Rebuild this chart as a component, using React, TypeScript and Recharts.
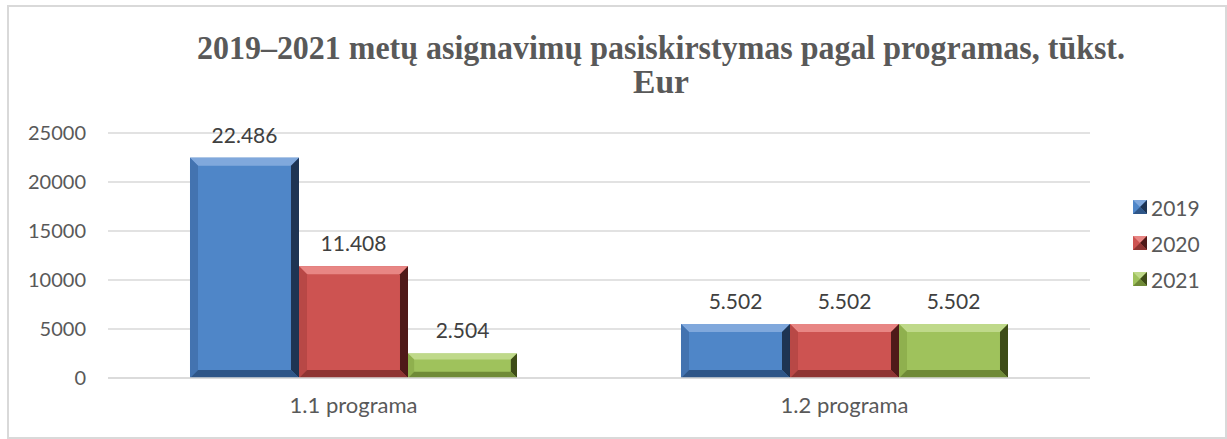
import React from 'react';
import { BarChart, Bar, XAxis, YAxis, CartesianGrid, Legend, LabelList } from 'recharts';

const categories = ['1.1 programa', '1.2 programa'];
const values2019 = [22486, 5502];
const values2020 = [11408, 5502];
const values2021 = [2504, 5502];
const seriesNames = ['2019', '2020', '2021'];
const yTicks = [0, 5000, 10000, 15000, 20000, 25000];
const titleLine1 = '2019–2021 metų asignavimų pasiskirstymas pagal programas, tūkst.';
const titleLine2 = 'Eur';

const data = categories.map((c, i) => ({
  name: c,
  '2019': values2019[i],
  '2020': values2020[i],
  '2021': values2021[i],
}));

const palette: Record<string, { face: string; top: string; left: string; right: string; bottom: string }> = {
  '2019': { face: '#4f86c8', top: '#80a8dc', left: '#4373b0', right: '#1e3453', bottom: '#2f5688' },
  '2020': { face: '#cd5351', top: '#e88684', left: '#b84846', right: '#4f1a19', bottom: '#8e3533' },
  '2021': { face: '#9fc25c', top: '#bfd98a', left: '#8fb04e', right: '#3e4c18', bottom: '#6f8a37' },
};

const makeShape = (key: string) => (props: any) => {
  const { x, y, width: w, height: h } = props;
  if (!w || !h || h <= 0) return <g />;
  const c = palette[key];
  const b = Math.min(8, w / 4, h / 4);
  return (
    <g>
      <rect x={x} y={y} width={w} height={h} fill={c.face} />
      <polygon points={`${x},${y} ${x + w},${y} ${x + w - b},${y + b} ${x + b},${y + b}`} fill={c.top} />
      <polygon points={`${x},${y} ${x + b},${y + b} ${x + b},${y + h - b} ${x},${y + h}`} fill={c.left} />
      <polygon points={`${x + w},${y} ${x + w},${y + h} ${x + w - b},${y + h - b} ${x + w - b},${y + b}`} fill={c.right} />
      <polygon points={`${x},${y + h} ${x + b},${y + h - b} ${x + w - b},${y + h - b} ${x + w},${y + h}`} fill={c.bottom} />
    </g>
  );
};

const fmt = (v: any) => {
  const n = Number(v);
  return `${Math.floor(n / 1000)}.${String(n % 1000).padStart(3, '0')}`;
};

const LegendContent = () => (
  <div style={{ fontFamily: 'Lato, sans-serif', fontSize: 21, color: '#595959' }}>
    {seriesNames.map((s) => (
      <div key={s} style={{ display: 'flex', alignItems: 'center', height: 36 }}>
        <svg width={14} height={14} style={{ marginRight: 4 }}>
          <rect x={0} y={0} width={14} height={14} fill={palette[s].face} />
          <polygon points="0,0 14,0 7,7" fill={palette[s].top} />
          <polygon points="14,0 14,14 7,7" fill={palette[s].right} />
          <polygon points="0,14 14,14 7,7" fill={palette[s].bottom} />
        </svg>
        <span>{s}</span>
      </div>
    ))}
  </div>
);

const yTickFont = { fontFamily: 'Lato, sans-serif', fontSize: 20, fill: '#595959' };
const xTickFont = { fontFamily: 'Lato, sans-serif', fontSize: 22, fill: '#595959' };
const titleStyle = { fontFamily: '"Liberation Serif", serif', fontWeight: 'bold' as const, fontSize: 33, fill: '#595959' };

export default function App() {
  return (
    <div style={{ position: 'absolute', left: 0, top: 0, width: 1227, height: 439, background: '#fff' }}>
      <div
        style={{
          position: 'absolute', left: 7, top: 5, width: 1220, height: 434,
          border: '2px solid #d9d9d9', boxSizing: 'border-box',
        }}
      />
      <div style={{ position: 'absolute', left: 0, top: 0 }}>
        <BarChart
          width={1227}
          height={439}
          data={data}
          margin={{ top: 133, right: 47, bottom: 31, left: 8 }}
          barCategoryGap="16.7%"
          barGap={0}
        >
          <CartesianGrid vertical={false} stroke="#d9d9d9" strokeWidth={1.5} />
          <XAxis
            dataKey="name"
            height={30}
            axisLine={{ stroke: '#d9d9d9', strokeWidth: 1.5 }}
            tickLine={false}
            tickSize={0}
            tickMargin={19}
            tick={xTickFont}
          />
          <YAxis
            width={100}
            domain={[0, 25000]}
            ticks={yTicks}
            axisLine={false}
            tickLine={false}
            tickSize={0}
            tickMargin={22}
            tick={yTickFont}
          />
          <Legend
            layout="vertical"
            align="right"
            verticalAlign="middle"
            content={<LegendContent />}
            wrapperStyle={{ left: 1133, top: 189, width: 90 }}
          />
          {seriesNames.map((s) => (
            <Bar key={s} dataKey={s} name={s} fill={palette[s].face} shape={makeShape(s)} isAnimationActive={false}>
              <LabelList
                dataKey={s}
                position="top"
                offset={15}
                formatter={fmt}
                style={{ fontFamily: 'Lato, sans-serif', fontSize: 21, fill: '#404040' }}
              />
            </Bar>
          ))}
        </BarChart>
      </div>
      <svg width={1227} height={110} style={{ position: 'absolute', left: 0, top: 0, pointerEvents: 'none' }}>
        <text x={661} y={59} textAnchor="middle" textLength={928} lengthAdjust="spacingAndGlyphs" style={titleStyle}>
          {titleLine1}
        </text>
        <text x={661} y={93} textAnchor="middle" textLength={56} lengthAdjust="spacingAndGlyphs" style={titleStyle}>
          {titleLine2}
        </text>
      </svg>
    </div>
  );
}
